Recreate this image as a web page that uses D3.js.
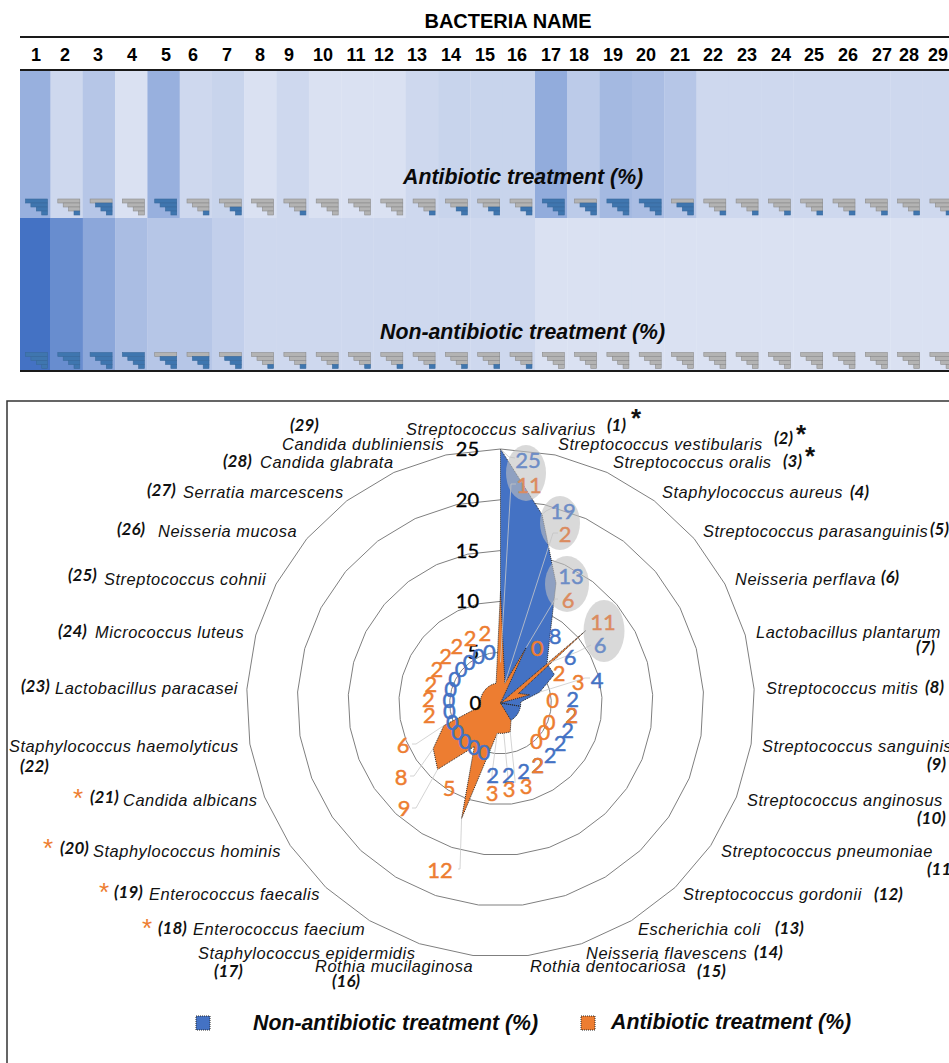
<!DOCTYPE html>
<html>
<head>
<meta charset="utf-8">
<script src="https://cdn.jsdelivr.net/npm/d3@7"></script>
<style>
  body { margin: 0; background: #fff; overflow: hidden; }
  svg { display: block; }
  text { font-family: "Liberation Sans", Arial, sans-serif; }
  .num { font-family: Lato, sans-serif; }
</style>
</head>
<body>
<div id="chart"></div>
<script>
// Percent of patients per bacterium, id = position in these arrays + 1.
const bacteria = [
  "Streptococcus salivarius", "Streptococcus vestibularis", "Streptococcus oralis",
  "Staphylococcus aureus", "Streptococcus parasanguinis", "Neisseria perflava",
  "Lactobacillus plantarum", "Streptococcus mitis", "Streptococcus sanguinis",
  "Streptococcus anginosus", "Streptococcus pneumoniae", "Streptococcus gordonii",
  "Escherichia coli", "Neisseria flavescens", "Rothia dentocariosa",
  "Rothia mucilaginosa", "Staphylococcus epidermidis", "Enterococcus faecium",
  "Enterococcus faecalis", "Staphylococcus hominis", "Candida albicans",
  "Staphylococcus haemolyticus", "Lactobacillus paracasei", "Micrococcus luteus",
  "Streptococcus cohnii", "Neisseria mucosa", "Serratia marcescens",
  "Candida glabrata", "Candida dubliniensis"
];
const nonAntibiotic = [25, 19, 13, 8, 6, 6, 4, 2, 2, 2, 2, 2, 2, 2, 2, 2, 0, 0, 0, 0, 0, 0, 0, 0, 0, 0, 0, 0, 0];
const antibiotic = [11, 2, 6, 0, 11, 2, 3, 0, 2, 0, 0, 0, 2, 3, 3, 3, 12, 5, 9, 8, 6, 2, 2, 2, 2, 2, 2, 2, 2];
const radialTicks = [0, 5, 10, 15, 20, 25];

// Hand placed text, as in the figure: [name x, name y, number x, number y]
const nameSpots = [
  [406,429,607,425],[558,444,774,438],[613,462,783,461],[662,492,850,492],[703,531,930,529],
  [735,579,881,577],[756,632,916,647],[766,688,925,687],[762,746,927,764],[747,800,917,818],
  [721,851,927,869],[683,894,874,894],[638,929,775,928],[586,953,754,952],[530,966,697,971],
  [315,966,332,981],[198,953,214,971],[193,929,158,928],[149,894,114,892],[93,851,60,848],
  [123,800,90,797],[9,746,20,766],[55,688,21,686],[95,632,58,631],[104,579,68,575],
  [158,531,117,529],[183,492,147,490],[260,462,223,461],[282,444,290,425]
];
const headerX = [36,65,98,132,166,193,227,260,289,323,356,384,417,451,485,517,551,579,613,646,680,713,747,781,814,848,882,909,938];
const blackStars = [[1,636,417],[2,801,433],[3,810,455]];
const orangeStars = [[18,147,931],[19,104,895],[20,48,851],[21,78,801]];
const greyEllipses = [[526,473,20,28],[560,523,20,27],[567,584,22,28],[604,631,20.5,31]];
const circledIds = [1, 2, 3, 5];

// Value labels: fixed spots where the figure moved them, otherwise along the spoke.
const nonLabelSpots = {1:[528,460],2:[563,511],3:[571,576],4:[555,636],5:[600,645],6:[570,657],7:[597,680]};
const abxLabelSpots = {1:[529,485],2:[565,534],3:[568,600],4:[537,648],5:[603,622],6:[559,673],7:[578,682],
  14:[526,786],15:[509,789],16:[492,793],17:[440,870],18:[449,788],19:[404,808],20:[401,777],21:[403,745]};
const nonLabelRadius = 7.1, abxLabelRadius = {0: 5.15, 2: 7.1}, zeroNonRadius = 5.1;

// Leader lines: series, bacterium id, label end, elbow, optional value the line stops at
const leaders = [
  ["non",1,[515,458],[509,457]], ["abx",1,[516,484],[511,484],4],
  ["non",2,[552,508],[546,511]], ["abx",2,[558,533],[553,533]],
  ["abx",3,[558,599],[555,599]], ["non",5,[591,645],[577,652]],
  ["non",7,[590,678],[585,678]], ["abx",14,[515,783],[515,780]],
  ["abx",15,[508,782],[508,778]], ["abx",16,[492,777],[492,774]],
  ["abx",17,[458,869],[460,869]], ["abx",19,[412,808],[416,808]],
  ["abx",20,[410,776],[414,776]], ["abx",21,[412,744],[416,744]]
];

const width = 949, height = 1063;
const ids = bacteria.map((d, i) => i + 1);

const svg = d3.select("#chart").append("svg")
    .attr("width", width)
    .attr("height", height)
    .attr("viewBox", [0, 0, width, height]);

// ---- Heat table ----
const x = d3.scaleBand().domain(ids).range([18.2, 18.2 + 29 * 32.3]);
const color = d3.scaleLinear().domain([0, 25]).range(["#DAE1F2", "#4472C4"]);
const iconLevel = d3.scaleThreshold().domain([1, 2.5, 3.5, 7]).range([0, 1, 2, 3, 4]);

svg.append("clipPath").attr("id", "table-clip")
  .append("rect").attr("x", 20).attr("y", 60).attr("width", 940).attr("height", 320);

const table = svg.append("g").attr("clip-path", "url(#table-clip)");

function heatRow(values, y0, y1, iconY) {
  table.append("g").selectAll("rect")
    .data(values)
    .join("rect")
    .attr("x", (d, i) => x(i + 1))
    .attr("y", y0)
    .attr("width", x.bandwidth() + 0.3)
    .attr("height", y1 - y0)
    .attr("fill", d => color(d));

  // Excel style "stairs" icon, lower steps turn blue with the level
  const icons = table.append("g").selectAll("g")
    .data(values)
    .join("g")
    .attr("transform", (d, i) => `translate(${x(i + 1) + x.bandwidth() - 3},${iconY})`);
  icons.selectAll("rect")
    .data(d => [0, 1, 2, 3].map(step => ({step, on: step >= 4 - iconLevel(d)})))
    .join("rect")
    .attr("x", d => -22 + d.step * 5.4)
    .attr("y", d => d.step * 4)
    .attr("width", d => 22 - d.step * 5.4)
    .attr("height", 4)
    .attr("fill", d => d.on ? "#3F76AF" : "#B3B3B3")
    .attr("stroke", d => d.on ? "#3A6A9C" : "#8C8C8C")
    .attr("stroke-width", 0.6);
}
heatRow(antibiotic, 71, 218, 199);
heatRow(nonAntibiotic, 218, 371, 352.5);

svg.append("text").attr("x", 508).attr("y", 28)
    .attr("text-anchor", "middle").attr("font-weight", 700).attr("font-size", 20)
    .text("BACTERIA NAME");

svg.append("g").selectAll("text")
  .data(ids)
  .join("text")
    .attr("x", (d, i) => headerX[i])
    .attr("y", 60.5)
    .attr("text-anchor", "middle")
    .attr("font-weight", 700)
    .attr("font-size", 18)
    .text(d => d);

svg.append("g").attr("stroke", "#1a1a1a").attr("stroke-width", 2).selectAll("line")
  .data([37, 70, 371])
  .join("line")
    .attr("x1", 20).attr("x2", width)
    .attr("y1", d => d).attr("y2", d => d);

function boldItalic(txt, px, py, size) {
  return svg.append("text").attr("x", px).attr("y", py)
      .attr("font-weight", 700).attr("font-style", "italic").attr("font-size", size)
      .attr("fill", "#0a0a0a").text(txt);
}
boldItalic("Antibiotic treatment (%)", 403, 184, 21.3);
boldItalic("Non-antibiotic treatment (%)", 380, 339, 21.3);

// ---- Radar ----
svg.append("rect").attr("x", 7).attr("y", 401).attr("width", 980).attr("height", 700)
    .attr("fill", "none").attr("stroke", "#333").attr("stroke-width", 1.5);

const cx = 500.5, cy = 703;
const r = d3.scaleLinear().domain([0, 25]).range([0, 254]);
const angle = d3.scaleLinear().domain([1, 30]).range([0, 2 * Math.PI]);
const polar = (id, v) => [cx + r(v) * Math.sin(angle(id)), cy - r(v) * Math.cos(angle(id))];

const radar = svg.append("g").attr("transform", `translate(${cx},${cy})`);
const radial = d3.lineRadial().curve(d3.curveLinearClosed);

radar.append("g").selectAll("path")
  .data(radialTicks.filter(d => d > 0))
  .join("path")
    .attr("d", t => radial(ids.map(id => [angle(id), r(t)])))
    .attr("fill", "none")
    .attr("stroke", "#7f7f7f")
    .attr("stroke-width", 1);

function area(values, fill) {
  radar.append("path")
    .attr("d", radial(values.map((v, i) => [angle(i + 1), r(v)])))
    .attr("fill", fill)
    .attr("stroke", "#2b2b2b")
    .attr("stroke-width", 1)
    .attr("stroke-dasharray", "1 1");
}
area(nonAntibiotic, "#4472C4");
area(antibiotic, "#ED7D31");

// Leader lines
svg.append("g").attr("fill", "none").attr("stroke", "#c9c9c9").attr("stroke-width", 0.8)
  .selectAll("polyline")
  .data(leaders)
  .join("polyline")
    .attr("points", d => {
      const values = d[0] === "non" ? nonAntibiotic : antibiotic;
      const stop = d[4] !== undefined ? d[4] : values[d[1] - 1];
      return [d[2], d[3], polar(d[1], stop)].join(" ");
    });

// Radial axis labels
svg.append("g").selectAll("text")
  .data(radialTicks)
  .join("text")
    .attr("class", "num")
    .attr("x", d => d === 0 ? 481 : 479)
    .attr("y", d => cy - r(d) + 7)
    .attr("text-anchor", "end")
    .attr("font-size", 20)
    .attr("fill", "#000")
    .attr("stroke", "#000")
    .attr("stroke-width", 0.35)
    .text(d => d);

svg.append("g").selectAll("ellipse")
  .data(greyEllipses)
  .join("ellipse")
    .attr("cx", d => d[0]).attr("cy", d => d[1])
    .attr("rx", d => d[2]).attr("ry", d => d[3])
    .attr("fill", "#BFBFBF")
    .attr("fill-opacity", 0.6);

// Value labels
function valueLabels(values, spots, radiusOf, fill, mutedFill) {
  svg.append("g").selectAll("text")
    .data(values)
    .join("text")
      .attr("class", "num")
      .attr("font-size", 22)
      .attr("text-anchor", "middle")
      .attr("fill", (v, i) => circledIds.includes(i + 1) ? mutedFill : fill)
      .attr("stroke", (v, i) => circledIds.includes(i + 1) ? mutedFill : fill)
      .attr("stroke-width", 0.45)
      .attr("transform", (v, i) => {
        const p = spots[i + 1] || polar(i + 1, radiusOf(v));
        return `translate(${p[0]},${p[1] + 8})`;
      })
      .text(v => v);
}
valueLabels(nonAntibiotic, nonLabelSpots, v => v === 0 ? zeroNonRadius : nonLabelRadius, "#4472C4", "#6E8DC6");
valueLabels(antibiotic, abxLabelSpots, v => abxLabelRadius[v], "#ED7D31", "#DB8B5F");

// Bacteria names and numbers
svg.append("g").selectAll("text")
  .data(bacteria)
  .join("text")
    .attr("x", (d, i) => nameSpots[i][0])
    .attr("y", (d, i) => nameSpots[i][1] + 5.5)
    .attr("font-style", "italic")
    .attr("font-size", 16.4)
    .attr("letter-spacing", 0.55)
    .attr("fill", "#111")
    .text(d => d);

svg.append("g").selectAll("text")
  .data(ids)
  .join("text")
    .attr("class", "num")
    .attr("x", (d, i) => nameSpots[i][2])
    .attr("y", (d, i) => nameSpots[i][3] + 6)
    .attr("font-style", "italic")
    .attr("font-weight", 700)
    .attr("font-size", 17)
    .attr("fill", "#111")
    .text(d => `(${d})`);

svg.append("g").selectAll("text")
  .data(blackStars)
  .join("text")
    .attr("x", d => d[1]).attr("y", d => d[2] + 10)
    .attr("text-anchor", "middle").attr("font-size", 26).attr("font-weight", 700)
    .attr("fill", "#111").text("*");

svg.append("g").selectAll("text")
  .data(orangeStars)
  .join("text")
    .attr("x", d => d[1]).attr("y", d => d[2] + 6)
    .attr("text-anchor", "middle").attr("font-size", 26)
    .attr("fill", "#ED7D31").text("*");

// Legend
[["Non-antibiotic treatment (%)", "#4472C4", 196, 1016, 253, 1030],
 ["Antibiotic treatment (%)", "#ED7D31", 581, 1016, 611, 1029]].forEach(l => {
  svg.append("rect").attr("x", l[2]).attr("y", l[3]).attr("width", 14).attr("height", 14)
      .attr("fill", l[1]).attr("stroke", "#2b2b2b").attr("stroke-dasharray", "1 1");
  boldItalic(l[0], l[4], l[5], 21.3);
});
</script>
</body>
</html>
